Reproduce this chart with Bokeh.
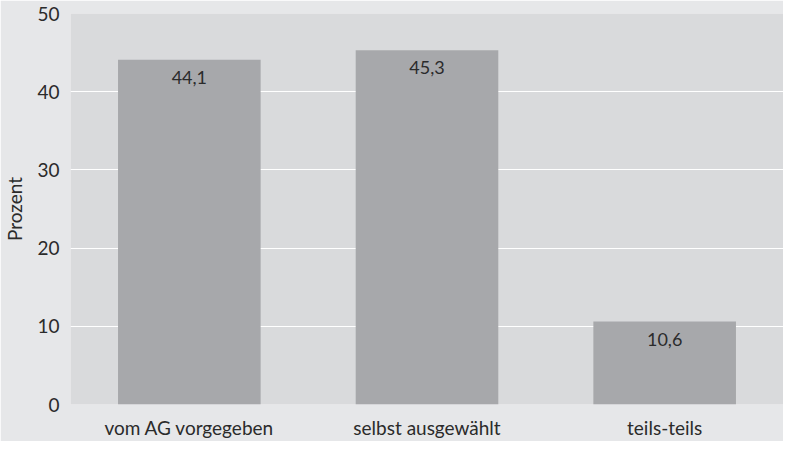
from bokeh.plotting import figure
from bokeh.models import ColumnDataSource, FixedTicker
from bokeh.core.properties import value
from bokeh.embed import file_html
from bokeh.resources import INLINE

categories = ["vom AG vorgegeben", "selbst ausgewählt", "teils-teils"]
values = [44.1, 45.3, 10.6]
y_ticks = [0, 10, 20, 30, 40, 50]
y_label = "Prozent"

labels = [f"{v:.1f}".replace(".", ",") for v in values]
src = ColumnDataSource(dict(cat=categories, val=values, lab=labels))

FONT = "Lato"
TXT = "#2b2b2b"

p = figure(x_range=categories, y_range=(0, 50), width=783, height=441,
           output_backend="svg", toolbar_location=None,
           background_fill_color="#d9dadc", border_fill_color="#e6e7e9",
           min_border_left=67, min_border_right=0, min_border_top=13,
           min_border_bottom=33, outline_line_color=None)
p.x_range.range_padding = 0.0

p.vbar(x="cat", top="val", width=0.6, source=src, fill_color="#a7a8ab",
       line_color=None)
p.text(x="cat", y="val", text="lab", source=src, text_align="center",
       text_baseline="top", y_offset=11, text_color=TXT,
       text_font=value(FONT), text_font_size="18px")

p.xgrid.grid_line_color = None
p.ygrid.grid_line_color = "white"
p.ygrid.grid_line_width = 1.2
p.ygrid.level = "underlay"

p.yaxis.ticker = FixedTicker(ticks=y_ticks)
p.yaxis.axis_label = y_label
p.yaxis.axis_label_text_font = FONT
p.yaxis.axis_label_text_font_style = "normal"
p.yaxis.axis_label_text_font_size = "19px"
p.yaxis.axis_label_text_color = TXT
p.yaxis.axis_label_standoff = 8

for ax in (p.xaxis[0], p.yaxis[0]):
    ax.axis_line_color = None
    ax.major_tick_line_color = None
    ax.minor_tick_line_color = None
    ax.major_label_text_font = FONT
    ax.major_label_text_color = TXT
    ax.major_label_standoff = 5

p.yaxis.major_label_text_font_size = "19px"
p.xaxis.major_label_text_font_size = "19px"
p.xaxis.major_label_standoff = 5

open("out.html", "w").write(file_html(p, INLINE))
